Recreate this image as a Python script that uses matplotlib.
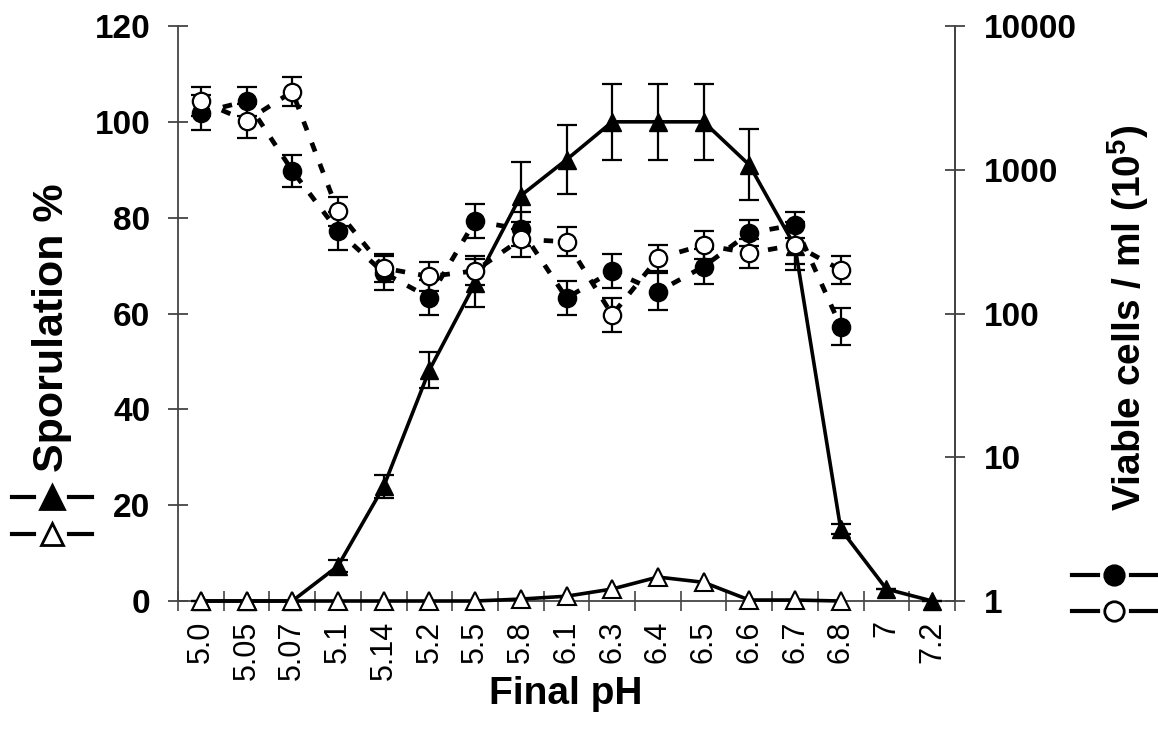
import numpy as np
import matplotlib
matplotlib.use("Agg")
import matplotlib.pyplot as plt
from matplotlib.lines import Line2D
from matplotlib.ticker import NullLocator

plt.rcParams['font.family'] = ['Liberation Sans', 'DejaVu Sans']
plt.rcParams['mathtext.fontset'] = 'custom'
plt.rcParams['mathtext.rm'] = 'Liberation Sans'
plt.rcParams['mathtext.bf'] = 'Liberation Sans:bold'

# ---- data ----
ph_labels = ["5.0", "5.05", "5.07", "5.1", "5.14", "5.2", "5.5", "5.8", "6.1",
             "6.3", "6.4", "6.5", "6.6", "6.7", "6.8", "7", "7.2"]

spor_filled = [0, 0, 0, 7.3, 23.9, 48.2, 66.3, 84.6, 92.1, 100, 100, 100, 91.0, 74.0, 15.0, 2.5, 0]
spor_filled_err = [0, 0, 0, 1.2, 2.3, 3.8, 5.0, 7.0, 7.2, 8.0, 8.0, 8.0, 7.4, 5.0, 1.0, 0, 0]

spor_open = [0, 0, 0, 0, 0, 0, 0, 0.4, 1.0, 2.5, 5.0, 3.9, 0.2, 0.2, 0]

viable_filled = [2500, 3000, 985, 375, 192, 129, 440, 386, 128, 197, 142, 212, 363, 414, 81]
viable_filled_err_dec = [0.12, 0.10, 0.11, 0.13, 0.12, 0.12, 0.12, 0.12, 0.12, 0.12, 0.13, 0.12, 0.09, 0.09, 0.13]

viable_open = [3000, 2188, 3494, 513, 207, 181, 198, 328, 316, 98, 242, 300, 263, 300, 201]
viable_open_err_dec = [0.10, 0.12, 0.10, 0.10, 0.10, 0.10, 0.10, 0.12, 0.10, 0.12, 0.09, 0.10, 0.10, 0.13, 0.10]

left_ticks = [0, 20, 40, 60, 80, 100, 120]
right_ticks = [1, 10, 100, 1000, 10000]

# ---- figure ----
W, H = 1158, 732
fig = plt.figure(figsize=(W / 100, H / 100), dpi=100)
ax = fig.add_axes([178 / W, 131 / H, 777 / W, 575 / H])
ax2 = ax.twinx()

x_all = np.arange(len(ph_labels))
x_open = np.arange(len(spor_open))
x_via = np.arange(len(viable_filled))

spine_col = '#444444'

# Sporulation (left axis)
ax.errorbar(x_all, spor_filled, yerr=spor_filled_err, color='black', lw=2.6,
            marker='^', ms=13, mfc='black', mec='black', ecolor='black',
            elinewidth=1.6, capsize=7, capthick=1.6, clip_on=False, zorder=3)
ax.plot(x_open, spor_open, color='black', lw=2.6, marker='^', ms=13,
        mfc='white', mec='black', mew=1.5, clip_on=False, zorder=4)

ax.set_xlim(-0.5, len(ph_labels) - 0.5)
ax.set_ylim(0, 120)
ax.set_yticks(left_ticks)
ax.set_yticklabels([str(t) for t in left_ticks], fontsize=24, fontweight='bold')
ax.tick_params(axis='y', direction='inout', length=14, width=1.3, colors=spine_col,
               labelcolor='black', pad=13)

ax.set_xticks(np.arange(-0.5, len(ph_labels), 1))
ax.set_xticklabels([])
ax.tick_params(axis='x', which='major', direction='inout', length=14, width=1.2,
               colors=spine_col)
ax.set_xticks(x_all, minor=True)
ax.set_xticklabels(ph_labels, minor=True, rotation=90, fontsize=22)
ax.tick_params(axis='x', which='minor', length=0, pad=14, labelcolor='black')

ax.spines['top'].set_visible(False)
for s in ['left', 'right', 'bottom']:
    ax.spines[s].set_color(spine_col)
    ax.spines[s].set_linewidth(1.3)

# Viable cells (right axis, log)
ax2.set_yscale('log')
ax2.set_ylim(1, 10000)
for vals, errs, fc in [(viable_filled, viable_filled_err_dec, 'black'),
                       (viable_open, viable_open_err_dec, 'white')]:
    v = np.array(vals, dtype=float)
    d = np.array(errs)
    lo = v - v / 10 ** d
    hi = v * 10 ** d - v
    ax2.plot(x_via, v, color='black', lw=3.4, linestyle=(0, (2.0, 2.8)), zorder=2)
    ax2.errorbar(x_via, v, yerr=[lo, hi], fmt='none', ecolor='black',
                 elinewidth=1.6, capsize=7, capthick=1.6, zorder=3)
    ax2.plot(x_via, v, linestyle='none', marker='o', ms=12.5, mfc=fc,
             mec='black', mew=1.6, zorder=4)

ax2.set_yticks(right_ticks)
ax2.set_yticklabels([str(t) for t in right_ticks], fontsize=24, fontweight='bold')
ax2.yaxis.set_minor_locator(NullLocator())
ax2.tick_params(axis='y', which='major', direction='inout', length=14, width=1.3,
                colors=spine_col, labelcolor='black', pad=14)
ax2.spines['top'].set_visible(False)
ax2.spines['right'].set_color(spine_col)
ax2.spines['right'].set_linewidth(1.3)
ax2.spines['left'].set_visible(False)
ax2.spines['bottom'].set_visible(False)

# Axis titles
fig.text(52 / W, 1 - 328 / H, 'Sporulation %', rotation=90, fontsize=31,
         fontweight='bold', ha='center', va='center')
fig.text(1128 / W, 1 - 318 / H, r'Viable cells / ml (10$^{\mathbf{5}}$)', rotation=90,
         fontsize=28, fontweight='bold', ha='center', va='center')
fig.text(566 / W, 1 - 694 / H, 'Final pH', fontsize=28, fontweight='bold',
         ha='center', va='center')

# Symbol keys beside the axes
def key(xc, yc, dl, dr, marker, fc, ms):
    y = 1 - yc / H
    fig.add_artist(Line2D([dl[0] / W, dl[1] / W], [y, y], color='black', lw=3,
                          transform=fig.transFigure))
    fig.add_artist(Line2D([dr[0] / W, dr[1] / W], [y, y], color='black', lw=3,
                          transform=fig.transFigure))
    fig.add_artist(Line2D([xc / W], [y], marker=marker, ms=ms, mfc=fc, mec='black',
                          mew=2, linestyle='none', transform=fig.transFigure))

key(52, 497, (12, 34), (69, 92), '^', 'black', 17)
key(52, 534, (12, 34), (69, 92), '^', 'white', 16)
key(1114, 575, (1072, 1098), (1131, 1157), 'o', 'black', 14)
key(1114, 611, (1072, 1098), (1131, 1157), 'o', 'white', 14)

fig.savefig('out.png', dpi=100)
